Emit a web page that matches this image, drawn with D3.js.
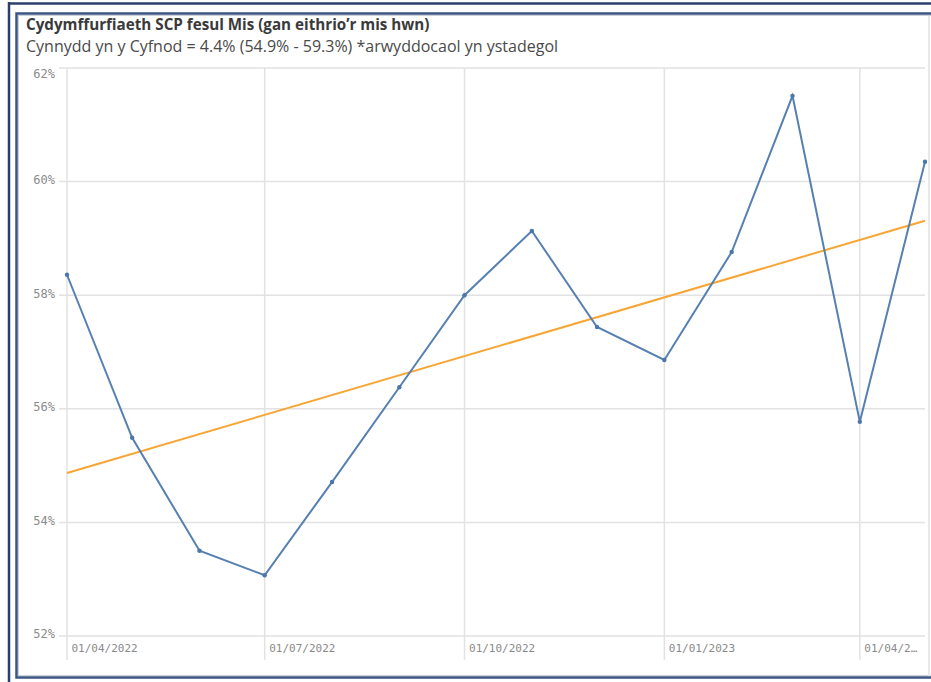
<!doctype html>
<html>
<head>
<meta charset="utf-8">
<style>
body{ margin:0; background:#ffffff; }
.title{ font-family:"Open Sans", "Noto Sans", Arial; font-size:15.2px; font-weight:bold; fill:#3a3a3a; }
.subtitle{ font-family:"Open Sans", "Noto Sans", Arial; font-size:16px; fill:#4a4a4a; }
.axis text{ font-family:"DejaVu Sans Mono", monospace; font-size:11px; fill:#8a8a8a; }
.yaxis text{ font-size:12px; }
.grid line{ stroke:#e2e2e2; stroke-width:1.5; }
</style>
<script src="https://d3js.org/d3.v7.min.js"></script>
</head>
<body>
<svg width="931" height="682"></svg>
<script>
// monthly compliance values (%)
var months = ["2022-04-01","2022-05-01","2022-06-01","2022-07-01","2022-08-01","2022-09-01","2022-10-01",
              "2022-11-01","2022-12-01","2023-01-01","2023-02-01","2023-03-01","2023-04-01","2023-05-01"];
var values = [58.36, 55.49, 53.50, 53.07, 54.71, 56.38, 58.00, 59.13, 57.44, 56.86, 58.76, 61.51, 55.77, 60.35];
var trend = [54.87, 59.31]; // start and end of trend line
var yTicks = [52, 54, 56, 58, 60, 62];
var xTicks = ["2022-04-01","2022-07-01","2022-10-01","2023-01-01","2023-04-01"];
var xTickLabels = ["01/04/2022","01/07/2022","01/10/2022","01/01/2023","01/04/2\u2026"];

var parse = d3.timeParse("%Y-%m-%d");
var data = months.map(function(m, i){ return {date: parse(m), value: values[i]}; });

var svg = d3.select("svg");
var navy = "#2b3f6c";

// frames
svg.append("line").attr("x1", 8).attr("x2", 931).attr("y1", 3.5).attr("y2", 3.5)
   .attr("stroke", navy).attr("stroke-width", 2.5);
svg.append("line").attr("x1", 9).attr("x2", 9).attr("y1", 2).attr("y2", 682)
   .attr("stroke", navy).attr("stroke-width", 2.5);
svg.append("rect").attr("x", 16.5).attr("y", 13.5).attr("width", 940).attr("height", 664)
   .attr("fill", "#fff").attr("stroke", "#3d5582").attr("stroke-width", 2.5);
svg.append("rect").attr("x", 18.5).attr("y", 15.5).attr("width", 940).attr("height", 660)
   .attr("fill", "none").attr("stroke", "#c9d0dc").attr("stroke-width", 1);
svg.append("line").attr("x1", 929).attr("x2", 929).attr("y1", 16).attr("y2", 676)
   .attr("stroke", "#e8e8e8").attr("stroke-width", 2);

svg.append("text").attr("class", "title").attr("x", 26).attr("y", 30)
   .text("Cydymffurfiaeth SCP fesul Mis (gan eithrio\u2019r mis hwn)");
svg.append("text").attr("class", "subtitle").attr("x", 26).attr("y", 52)
   .text("Cynnydd yn y Cyfnod = 4.4% (54.9% - 59.3%) *arwyddocaol yn ystadegol");

var x = d3.scaleTime()
    .domain([parse("2022-04-01"), parse("2023-05-01")])
    .range([67, 925]);
var y = d3.scaleLinear().domain([52, 62]).range([636, 68]);

// horizontal grid
svg.append("g").attr("class", "grid")
   .selectAll("line").data(yTicks).enter().append("line")
   .attr("x1", 59).attr("x2", 925)
   .attr("y1", function(d){ return y(d); }).attr("y2", function(d){ return y(d); });

// vertical grid
svg.append("g").attr("class", "grid")
   .selectAll("line").data(xTicks).enter().append("line")
   .attr("x1", function(d){ return x(parse(d)); }).attr("x2", function(d){ return x(parse(d)); })
   .attr("y1", 68).attr("y2", 660);

// y axis
var yAxis = svg.append("g").attr("class", "axis yaxis")
   .attr("transform", "translate(57,0)")
   .call(d3.axisLeft(y).tickValues(yTicks).tickSize(0).tickPadding(2)
         .tickFormat(function(d){ return d + "%"; }));
yAxis.select(".domain").remove();
yAxis.selectAll("text").attr("dy", function(d){ return d === 62 ? "0.75em" : "0.15em"; });

// x axis
var xAxis = svg.append("g").attr("class", "axis")
   .attr("transform", "translate(0,636)")
   .call(d3.axisBottom(x).tickValues(xTicks.map(parse)).tickSize(0).tickPadding(8)
         .tickFormat(function(d, i){ return xTickLabels[i]; }));
xAxis.select(".domain").remove();
xAxis.selectAll("text").attr("text-anchor", "start").attr("dx", 4);

// trend line
svg.append("line")
   .attr("x1", x(parse(months[0]))).attr("y1", y(trend[0]))
   .attr("x2", x(parse(months[months.length - 1]))).attr("y2", y(trend[1]))
   .attr("stroke", "#f7a635").attr("stroke-width", 2);

// series
var line = d3.line().x(function(d){ return x(d.date); }).y(function(d){ return y(d.value); });
svg.append("path").datum(data)
   .attr("fill", "none").attr("stroke", "#5580b1").attr("stroke-width", 2)
   .attr("d", line);
svg.selectAll(".dot").data(data).enter().append("circle")
   .attr("class", "dot")
   .attr("cx", function(d){ return x(d.date); }).attr("cy", function(d){ return y(d.value); })
   .attr("r", 2.2).attr("fill", "#4a76a8");
</script>
</body>
</html>
